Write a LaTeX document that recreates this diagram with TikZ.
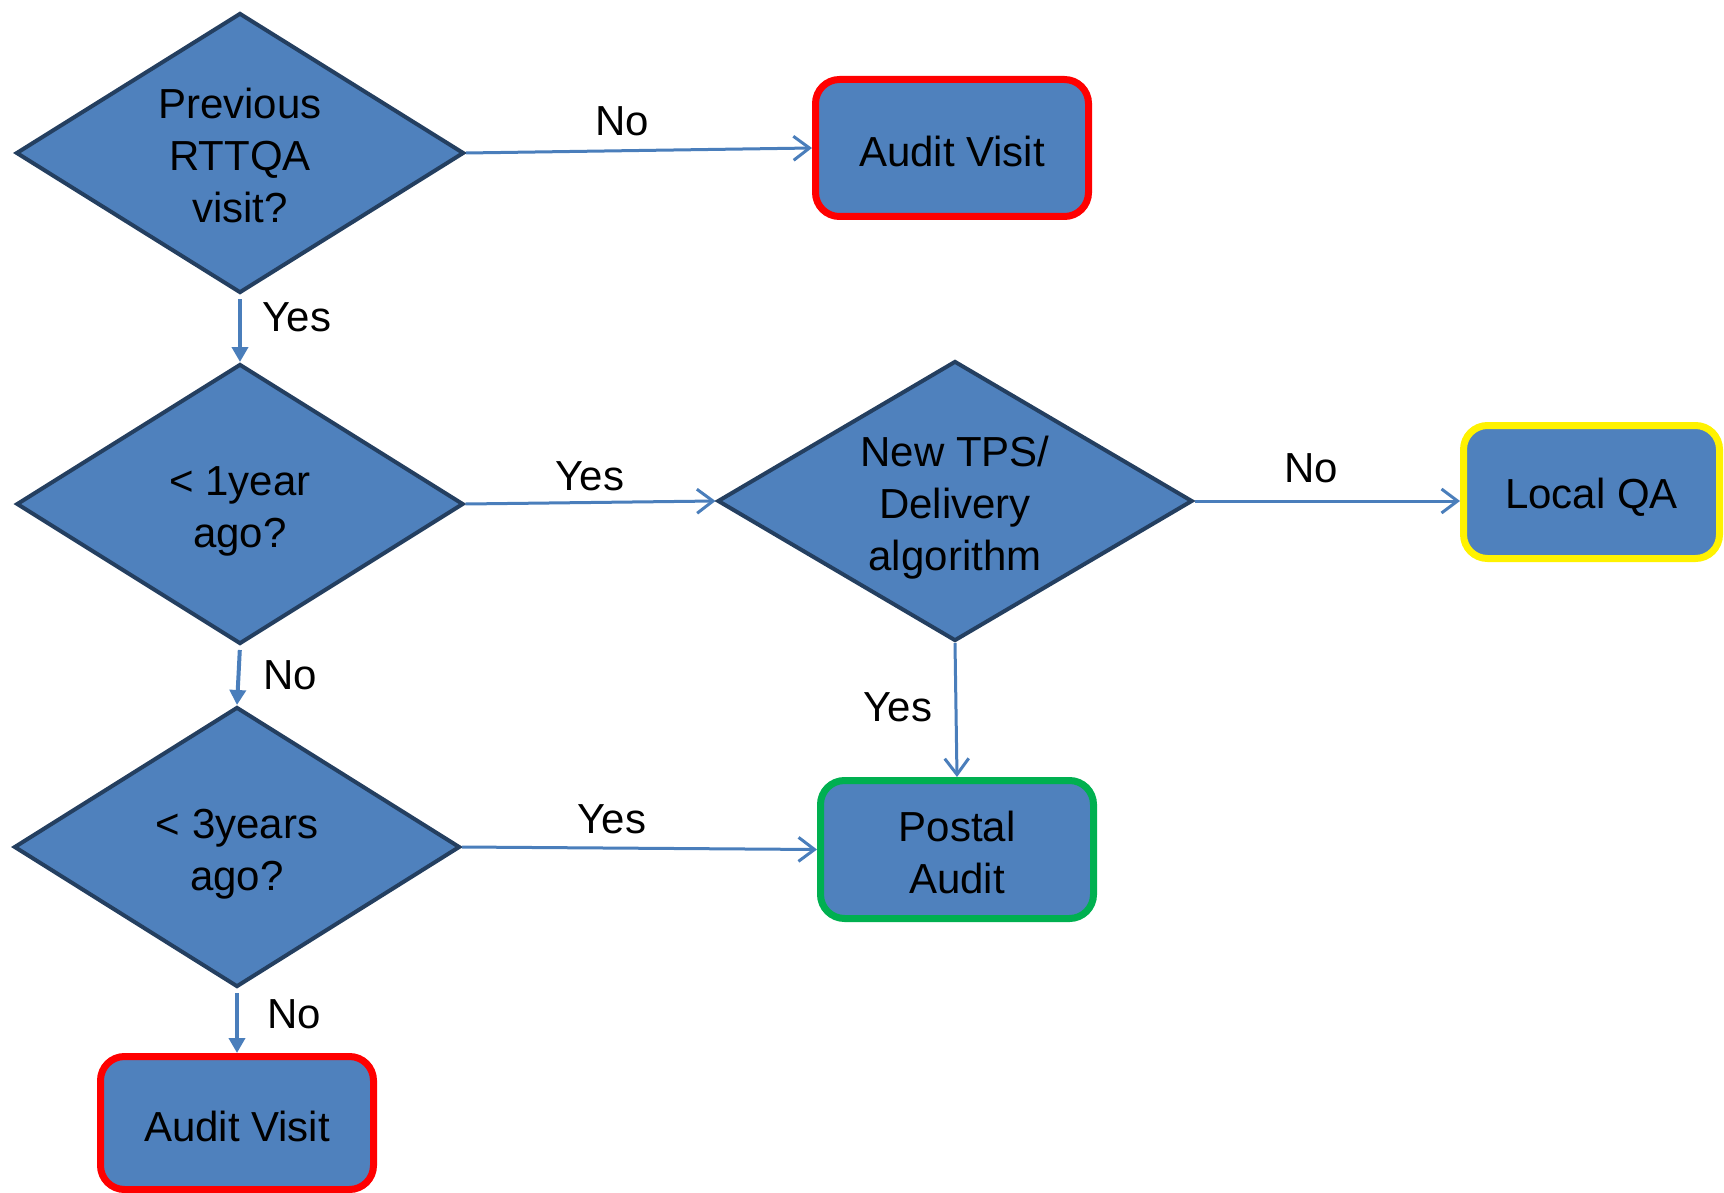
\documentclass[tikz,border=0pt]{standalone}
\usepackage{fontspec}
\setmainfont{Liberation Sans}
\usetikzlibrary{shapes.geometric,arrows.meta}
\definecolor{boxfill}{HTML}{4F81BD}
\definecolor{dborder}{HTML}{243F60}
\definecolor{arrowc}{HTML}{4A7EBB}
\definecolor{okgreen}{HTML}{00B050}
\newcommand{\lowered}[2]{\raisebox{-#1}[\height][\depth]{\begin{tabular}{@{}c@{}}#2\end{tabular}}}
\tikzset{
  txt/.style={font=\fontsize{42}{52}\selectfont, text=black},
  decision/.style={txt, diamond, draw=dborder, fill=boxfill, line width=4pt,
    inner sep=0pt, align=center, shape aspect=1.6},
  outcome/.style={txt, rectangle, rounded corners=24pt, fill=boxfill,
    line width=7pt, align=center, inner sep=0pt},
  openarr/.style={draw=arrowc, line width=3pt,
    -{Straight Barb[length=16pt,width=24pt,line width=3pt]}},
  filledarr/.style={draw=arrowc, line width=4pt,
    -{Triangle[length=15pt,width=16pt]}, shorten <=4pt},
  lbl/.style={txt, inner sep=0pt}
}
\begin{document}
\begin{tikzpicture}[x=1pt,y=-1pt]
\useasboundingbox (0,0) rectangle (1724,1193);

% decisions
\node[decision, minimum width=448pt, minimum height=280pt] (d1) at (240,153) {\lowered{7pt}{Previous\\RTTQA\\visit?}};
\node[decision, minimum width=447pt, minimum height=280pt] (d2) at (240,504) {\lowered{7pt}{< 1year\\ago?}};
\node[decision, minimum width=446pt, minimum height=280pt] (d3) at (237,847) {\lowered{7pt}{< 3years\\ago?}};
\node[decision, minimum width=475pt, minimum height=280pt] (d4) at (955,501) {\lowered{7pt}{New TPS/\\Delivery\\algorithm}};

% outcomes
\node[outcome, draw=red, minimum width=273pt, minimum height=137pt] (av1) at (952,148) {\lowered{8pt}{Audit Visit}};
\node[outcome, draw=yellow, minimum width=256pt, minimum height=133pt] (lqa) at (1591.5,492) {\lowered{6pt}{Local QA}};
\node[outcome, draw=okgreen, minimum width=273pt, minimum height=138pt] (pa) at (957,849.5) {\lowered{8pt}{Postal\\Audit}};
\node[outcome, draw=red, minimum width=273pt, minimum height=133pt] (av2) at (237,1123) {\lowered{8pt}{Audit Visit}};

% connectors
\draw[openarr] (d1.east) -- (av1.west);
\draw[filledarr] (d1.south) -- (d2.north);
\draw[openarr] (d2.east) -- (d4.west);
\draw[openarr] (d4.east) -- (d4.east -| lqa.west);
\draw[openarr] (d4.south) -- (pa.north);
\draw[filledarr] (d2.south) -- (d3.north);
\draw[openarr] (d3.east) -- (pa.west);
\draw[filledarr] (d3.south) -- (av2.north);

% labels
\node[lbl] (l1) at (622,121) {No};
\node[lbl] (l2) at (297,317) {Yes};
\node[lbl] (l3) at (590,476) {Yes};
\node[lbl] (l4) at (1311,468) {No};
\node[lbl] (l5) at (898,707) {Yes};
\node[lbl] (l6) at (290,675) {No};
\node[lbl] (l7) at (612,819) {Yes};
\node[lbl] (l8) at (294,1014) {No};
\end{tikzpicture}
\end{document}
